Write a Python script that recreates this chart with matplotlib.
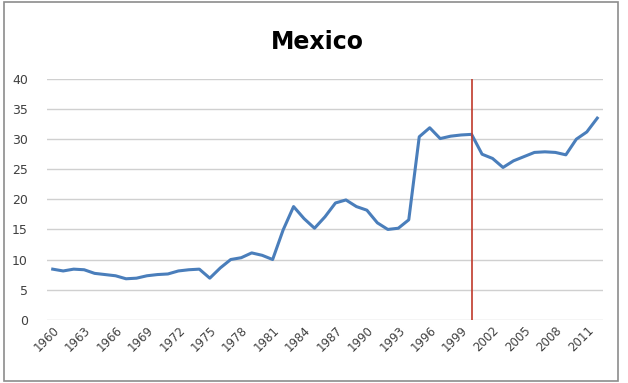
import numpy as np
import matplotlib
matplotlib.use("Agg")
import matplotlib.pyplot as plt
from matplotlib.patches import Rectangle

# data
years = list(range(1960, 2013))
values = [8.4, 8.1, 8.4, 8.3, 7.7, 7.5, 7.3, 6.8, 6.9, 7.3,
          7.5, 7.6, 8.1, 8.3, 8.4, 6.9, 8.6, 10.0, 10.3, 11.1,
          10.7, 10.0, 14.9, 18.8, 16.8, 15.2, 17.1, 19.4, 19.9, 18.8,
          18.2, 16.1, 15.0, 15.2, 16.6, 30.4, 31.9, 30.1, 30.5, 30.7,
          30.8, 27.5, 26.8, 25.3, 26.4, 27.1, 27.8, 27.9, 27.8, 27.4,
          30.0, 31.2, 33.5]
marker_year = 2000
title = "Mexico"

x = np.arange(len(years))
tick_idx = x[::3]
tick_labels = [str(years[i]) for i in tick_idx]

fig = plt.figure(figsize=(6.28, 3.83), dpi=100, facecolor="white")
ax = fig.add_axes([0.0756, 0.1653, 0.8838, 0.6284])

ax.plot(x, values, color="#4a7ebb", lw=2.2, solid_joinstyle="round", zorder=3)
# vertical marker at the year 2000
ax.axvline(years.index(marker_year), color="#c0392b", lw=1.2, zorder=4)

ax.set_xlim(-0.5, len(years) - 0.5)
ax.set_ylim(0, 40)
ax.set_yticks(range(0, 41, 5))
ax.set_xticks(tick_idx)
ax.set_xticklabels(tick_labels, rotation=45, ha="right", va="top",
                   rotation_mode="anchor", fontsize=8.5, color="#404040")
ax.tick_params(axis="y", labelsize=9, labelcolor="#404040", length=0, pad=14)
ax.tick_params(axis="x", length=0, pad=3)
ax.grid(axis="y", color="#d0d0d0", lw=1)
for s in ax.spines.values():
    s.set_visible(False)
ax.set_axisbelow(True)

fig.text(0.506, 0.89, title, ha="center", va="center",
         fontsize=17, fontweight="bold", color="black")

# outer chart border
fig.patches.append(Rectangle((0.007, 0.006), 0.977, 0.988, transform=fig.transFigure,
                             fill=False, edgecolor="#8c8c8c", lw=1.2))

fig.savefig("out.png", dpi=100)
